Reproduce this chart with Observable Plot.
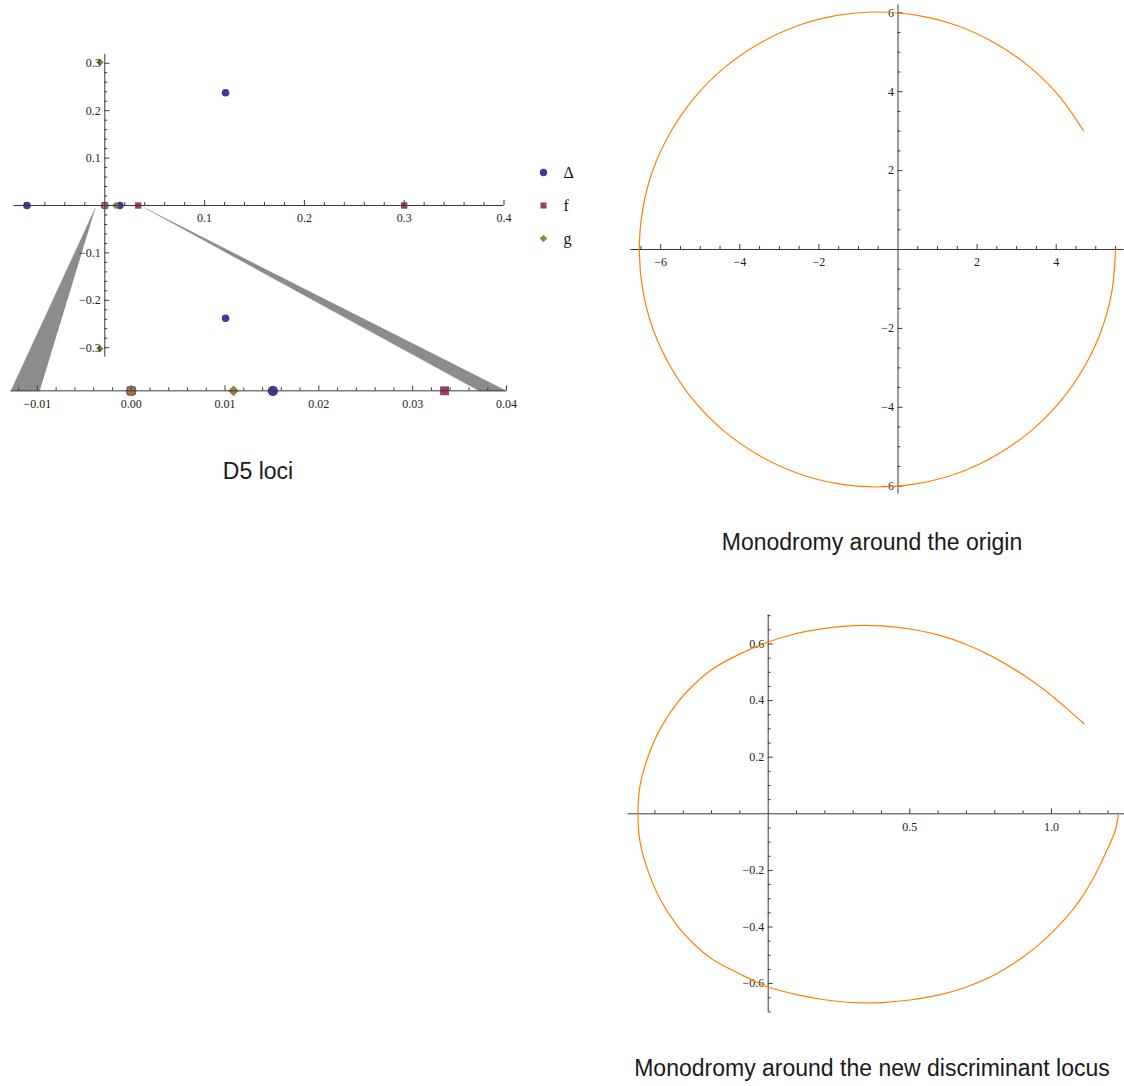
<!DOCTYPE html>
<html><head><meta charset="utf-8">
<script src="https://cdn.jsdelivr.net/npm/d3@7"></script>
<script src="https://cdn.jsdelivr.net/npm/@observablehq/plot@0.6"></script>
<style>
body{margin:0;background:#fff;}
#root{position:relative;width:1124px;height:1086px;background:#fff;overflow:hidden;}
.panel{position:absolute;}
.cap{position:absolute;text-align:center;font-family:"Liberation Sans",Arial,sans-serif;font-size:23px;line-height:23px;color:#1a1a1a;white-space:nowrap;}
</style></head><body>
<div id="root">
  <div id="p1" class="panel" style="left:0;top:0"></div>
  <div id="leg" class="panel" style="left:530px;top:160px"></div>
  <div class="cap" style="left:0;width:516px;top:460px">D5 loci</div>
  <div id="p2" class="panel" style="left:600px;top:0"></div>
  <div class="cap" style="left:600px;width:544px;top:531px">Monodromy around the origin</div>
  <div id="p3" class="panel" style="left:600px;top:600px"></div>
  <div class="cap" style="left:600px;width:544px;top:1057px">Monodromy around the new discriminant locus</div>
</div>
<script>
// ---------- data: D5 loci ----------
const seriesNames = ["Δ", "f", "g"];
const seriesColors = ["#3d3d99", "#993d6b", "#998040"];
const deltaX = [-0.078, 0, 0.0151, 0.121, 0.121];
const deltaY = [0, 0, 0, 0.238, -0.238];
const fX = [0, 0.0334, 0.3];
const fY = [0, 0, 0];
const gX = [0, 0.0109, -0.0048, -0.0048];
const gY = [0, 0, 0.302, -0.302];
// zoomed strip (real roots near the origin)
const deltaInsetX = [0, 0.0151];
const fInsetX = [0, 0.0334];
const gInsetX = [0, 0.0109];
const insetDomain = [-0.0128, 0.04];
const lociXMajor = [0.1, 0.2, 0.3, 0.4];
const lociYMajor = [-0.3, -0.2, -0.1, 0.1, 0.2, 0.3];
const insetMajor = [-0.01, 0, 0.01, 0.02, 0.03, 0.04];

// ---------- data: monodromy around the origin ----------
const originLoopX = [4.69, 4.09, 3.35, 2.49, 1.54, 0.53, -0.52, -1.57, -2.58, -3.53, -4.39, -5.13, -5.73, -6.18, -6.45, -6.54, -6.45, -6.18, -5.73, -5.13, -4.39, -3.53, -2.58, -1.57, -0.52, 0.53, 1.54, 2.49, 3.35, 4.09, 4.69, 5.14, 5.41, 5.50];
const originLoopY = [3.01, 3.87, 4.61, 5.21, 5.66, 5.93, 6.02, 5.93, 5.66, 5.21, 4.61, 3.87, 3.01, 2.06, 1.05, 0, -1.05, -2.06, -3.01, -3.87, -4.61, -5.21, -5.66, -5.93, -6.02, -5.93, -5.66, -5.21, -4.61, -3.87, -3.01, -2.06, -1.05, 0];
const originXMajor = [-6, -4, -2, 2, 4];
const originYMajor = [-6, -4, -2, 2, 4, 6];

// ---------- data: monodromy around the new discriminant locus ----------
const discLoopX = [1.115, 1.05, 0.98, 0.9, 0.8, 0.7, 0.6, 0.5, 0.4, 0.3, 0.2, 0.1, 0, -0.1, -0.2, -0.263, -0.320, -0.381, -0.425, -0.452, -0.46, -0.452, -0.425, -0.381, -0.320, -0.263, -0.2, -0.1, 0, 0.1, 0.2, 0.3, 0.4, 0.5, 0.6, 0.7, 0.8, 0.9, 0.98, 1.052, 1.1, 1.15, 1.19, 1.225, 1.237];
const discLoopY = [0.318, 0.376, 0.434, 0.491, 0.551, 0.598, 0.632, 0.653, 0.664, 0.665, 0.655, 0.637, 0.607, 0.565, 0.509, 0.456, 0.394, 0.301, 0.2, 0.102, 0, -0.102, -0.2, -0.303, -0.397, -0.459, -0.512, -0.566, -0.612, -0.639, -0.657, -0.667, -0.667, -0.658, -0.641, -0.612, -0.569, -0.506, -0.441, -0.367, -0.306, -0.224, -0.142, -0.06, 0];
const discXMajor = [0.5, 1.0];
const discYMajor = [-0.6, -0.4, -0.2, 0.2, 0.4, 0.6];

// ---------- styles ----------
const axisColor = "#3a3a3a";
const labelColor = "#222";
const curveColor = "#ff8000";
const wedgeGray = "#8c8c8c";
const svgStyle = {fontFamily: "'Liberation Serif', 'DejaVu Serif', serif", fontSize: "12px", background: "transparent", overflow: "visible"};

const diamond = {draw(ctx, size) { const r = Math.sqrt(size / 2); ctx.moveTo(0, -r); ctx.lineTo(r, 0); ctx.lineTo(0, r); ctx.lineTo(-r, 0); ctx.closePath(); }};
const fmt = n => d => (d < 0 ? "\u2212" : "") + Math.abs(d).toFixed(n);
const notIn = (arr) => d => !arr.some(m => Math.abs(m - d) < 1e-9) && Math.abs(d) > 1e-9;

function axes({kx, ky, xExtent, yExtent, xMinor, xMajor, yMinor, yMajor, fx, fy, yAt = 0}) {
  return [
    Plot.ruleY([yAt], {x1: xExtent[0], x2: xExtent[1], stroke: axisColor, strokeWidth: 1}),
    Plot.ruleX(xMinor, {x: d => d, y1: yAt, y2: yAt + 3 / ky, stroke: axisColor, strokeWidth: 1}),
    Plot.ruleX(xMajor, {x: d => d, y1: yAt, y2: yAt + 5 / ky, stroke: axisColor, strokeWidth: 1}),
    Plot.text(xMajor, {x: d => d, y: yAt, dy: 13, text: fx, fill: labelColor}),
    Plot.ruleX([0], {y1: yExtent[0], y2: yExtent[1], stroke: axisColor, strokeWidth: 1}),
    Plot.ruleY(yMinor, {y: d => d, x1: 0, x2: 3 / kx, stroke: axisColor, strokeWidth: 1}),
    Plot.ruleY(yMajor, {y: d => d, x1: 0, x2: 5 / kx, stroke: axisColor, strokeWidth: 1}),
    Plot.text(yMajor, {x: 0, y: d => d, dx: -4, textAnchor: "end", text: fy, fill: labelColor})
  ];
}

// ---------- panel 1: D5 loci ----------
{
  const xDom = [-0.1, 0.42], xRan = [104.3 - 99.8, 104.3 + 0.42 * 998];
  const yDom = [-0.42, 0.42], yRan = [205 + 0.42 * 474, 205 - 0.42 * 474];
  const kx = 998, ky = 474;
  const yInset = -0.391;
  const inset = d3.scaleLinear(insetDomain, [(10.6 - 104.3) / 998, (506 - 104.3) / 998]);
  const leftWedge = [{x: -0.0095, y: -0.006}, {x: inset(insetDomain[0]), y: yInset}, {x: inset(-0.00975), y: yInset}];
  const rightWedge = [{x: insetDomain[1], y: -0.005}, {x: inset(0.0371), y: yInset}, {x: inset(insetDomain[1]), y: yInset}];
  const idx = a => d3.range(a.length);
  const upXMinor = d3.range(-4, 20).map(i => i / 50).filter(notIn(lociXMajor));
  const upYMinor = d3.range(-15, 16).map(i => i / 50).filter(notIn(lociYMajor));
  const inMinor = d3.range(-6, 20).map(i => i / 500).filter(notIn(insetMajor));
  const plot = Plot.plot({
    width: 530, height: 420,
    x: {domain: xDom, range: xRan, axis: null},
    y: {domain: yDom, range: yRan, axis: null},
    style: svgStyle,
    marks: [
      Plot.line(leftWedge, {x: "x", y: "y", fill: wedgeGray, stroke: wedgeGray, strokeWidth: 0.6}),
      Plot.line(rightWedge, {x: "x", y: "y", fill: wedgeGray, stroke: wedgeGray, strokeWidth: 0.6}),
      // upper plot points
      Plot.dot(idx(deltaX), {x: i => deltaX[i], y: i => deltaY[i], r: 3.8, fill: seriesColors[0], symbol: "circle"}),
      Plot.dot(idx(fX), {x: i => fX[i], y: i => fY[i], r: 3.6, fill: seriesColors[1], symbol: "square"}),
      Plot.dot(idx(gX), {x: i => gX[i], y: i => gY[i], r: 3.0, fill: seriesColors[2], symbol: diamond}),
      // zoomed strip points
      Plot.dot(deltaInsetX, {x: d => inset(d), y: yInset, r: 5.2, fill: seriesColors[0], symbol: "circle"}),
      Plot.dot(fInsetX, {x: d => inset(d), y: yInset, r: 5.0, fill: seriesColors[1], symbol: "square"}),
      Plot.dot(gInsetX, {x: d => inset(d), y: yInset, r: 4.3, fill: seriesColors[2], symbol: diamond}),
      // upper axes
      ...axes({kx, ky, xExtent: [-0.091, 0.4], yExtent: [-0.32, 0.3186], xMinor: upXMinor, xMajor: lociXMajor, yMinor: upYMinor, yMajor: lociYMajor, fx: fmt(1), fy: fmt(1)}),
      // zoomed strip axis
      Plot.ruleY([yInset], {x1: inset(insetDomain[0]), x2: inset(insetDomain[1]), stroke: axisColor}),
      Plot.ruleX(inMinor, {x: d => inset(d), y1: yInset, y2: yInset + 3 / ky, stroke: axisColor}),
      Plot.ruleX(insetMajor, {x: d => inset(d), y1: yInset, y2: yInset + 5 / ky, stroke: axisColor}),
      Plot.text(insetMajor, {x: d => inset(d), y: yInset, dy: 13, text: fmt(2), fill: labelColor})
    ]
  });
  document.getElementById("p1").appendChild(plot);

  const legend = Plot.plot({
    width: 60, height: 95,
    x: {domain: [0, 60], range: [0, 60], axis: null},
    y: {type: "point", domain: seriesNames, range: [11, 78], padding: 0, axis: null},
    style: {...svgStyle, fontSize: "16px"},
    marks: [
      Plot.dot([seriesNames[0]], {x: 13, y: d => d, r: 3.7, fill: seriesColors[0], symbol: "circle"}),
      Plot.dot([seriesNames[1]], {x: 13, y: d => d, r: 3.4, fill: seriesColors[1], symbol: "square"}),
      Plot.dot([seriesNames[2]], {x: 13, y: d => d, r: 3.0, fill: seriesColors[2], symbol: diamond}),
      Plot.text(seriesNames, {x: 33, y: d => d, text: d => d, textAnchor: "start", fill: "#111"})
    ]
  });
  document.getElementById("leg").appendChild(legend);
}

// ---------- panel 2: monodromy around the origin ----------
{
  const kx = 39.55, ky = 39.45;
  const x0 = 297.5, y0 = 249;
  const xDom = [-7, 5.7], yDom = [-6.3, 6.3];
  const xMinor = d3.range(-13, 12).map(i => i / 2).filter(notIn(originXMajor));
  const yMinor = d3.range(-12, 13).map(i => i / 2).filter(notIn(originYMajor));
  const plot = Plot.plot({
    width: 524, height: 500,
    x: {domain: xDom, range: [x0 + xDom[0] * kx, x0 + xDom[1] * kx], axis: null},
    y: {domain: yDom, range: [y0 - yDom[0] * ky, y0 - yDom[1] * ky], axis: null},
    style: svgStyle,
    marks: [
      ...axes({kx, ky, xExtent: [-6.75, 5.72], yExtent: [-6.2, 6.2], xMinor, xMajor: originXMajor, yMinor, yMajor: originYMajor, fx: fmt(0), fy: fmt(0)}),
      Plot.line(d3.range(originLoopX.length), {x: i => originLoopX[i], y: i => originLoopY[i], curve: "catmull-rom", stroke: curveColor, strokeWidth: 1.2})
    ]
  });
  document.getElementById("p2").appendChild(plot);
}

// ---------- panel 3: monodromy around the new discriminant locus ----------
{
  const kx = 283.2, ky = 283;
  const x0 = 167.7, y0 = 213.3;
  const xDom = [-0.55, 1.26], yDom = [-0.72, 0.72];
  const xMinor = d3.range(-4, 13).map(i => i / 10).filter(notIn(discXMajor));
  const yMinor = d3.range(-14, 15).map(i => i / 20).filter(notIn(discYMajor));
  const plot = Plot.plot({
    width: 524, height: 420,
    x: {domain: xDom, range: [x0 + xDom[0] * kx, x0 + xDom[1] * kx], axis: null},
    y: {domain: yDom, range: [y0 - yDom[0] * ky, y0 - yDom[1] * ky], axis: null},
    style: svgStyle,
    marks: [
      ...axes({kx, ky, xExtent: [-0.495, 1.26], yExtent: [-0.70, 0.703], xMinor, xMajor: discXMajor, yMinor, yMajor: discYMajor, fx: fmt(1), fy: fmt(1)}),
      Plot.line(d3.range(discLoopX.length), {x: i => discLoopX[i], y: i => discLoopY[i], curve: "catmull-rom", stroke: curveColor, strokeWidth: 1.2})
    ]
  });
  document.getElementById("p3").appendChild(plot);
}
</script>
</body></html>
